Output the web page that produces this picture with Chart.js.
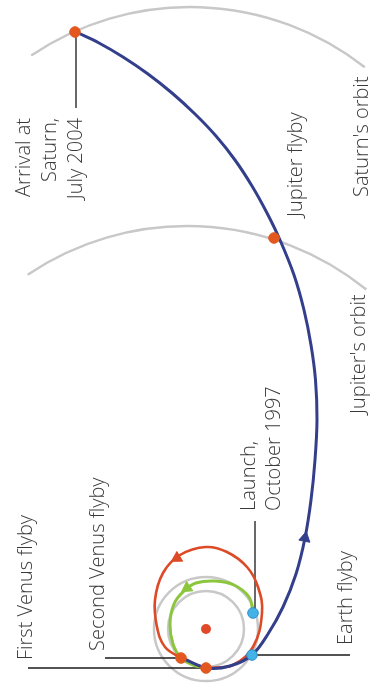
<!DOCTYPE html>
<html>
<head>
<meta charset="utf-8">
<title>Cassini route</title>
<script src="https://cdn.jsdelivr.net/npm/chart.js"></script>
<style>
  html, body { margin: 0; padding: 0; background: #fff; }
  #wrap { width: 371px; height: 686px; }
</style>
</head>
<body>
<div id="wrap"><canvas id="routeChart" width="371" height="686"></canvas></div>
<script>
// diagram units, sun at 0,0, y pointing up

// planet orbits
let orbitNames = ["Venus", "Earth", "Jupiter", "Saturn"]
let orbitCx = [0, 0, -19, -16]
let orbitCy = [0, 0, 118, 338]
let orbitR = [38, 52, 285, 284]
let orbitFrom = [0, 0, 51, 52]
let orbitTo = [360, 360, 124, 124]

// launch leg, Earth -> first Venus flyby
let greenX = [47, 43, 28, 9, -10, -22, -32, -36, -33, -25, -13, 0]
let greenY = [16, 32, 44, 48, 46, 38, 25, 5, -15, -29, -36, -39]

// loop between the two Venus flybys
let redX = [0, 27, 47, 56, 52, 41, 21, 0, -26, -43, -51, -49, -41, -25]
let redY = [-39, -36, -18, 16, 42, 62, 77, 82, 74, 56, 29, 2, -18, -29]

// second Venus -> Earth -> Jupiter -> Saturn
let navyX = [-24, 1, 24, 46, 62, 77, 90, 99, 105, 109, 111, 109.5, 105, 98, 88, 74, 61, 46, 29, 10, -11, -34, -58, -83, -107, -130]
let navyY = [-29, -39, -37, -26, -5, 22, 55, 91, 129, 169, 209, 249, 284, 319, 354, 389, 416, 443, 469, 493, 515, 536, 555, 572, 586, 597]

// events
let eventNames = ["Launch", "First Venus flyby", "Second Venus flyby", "Earth flyby", "Jupiter flyby", "Arrival at Saturn"]
let eventX = [47, 0, -25, 46, 68, -131]
let eventY = [16, -39, -29, -26, 391, 597]
let eventKind = ["earth", "venus", "venus", "earth", "planet", "planet"]

// direction arrows on the paths
let arrowX = [-29, -19, 99]
let arrowY = [71, 41, 91]
let arrowDeg = [239, 236, 11]

// leader lines from events to labels
let leaderX1 = [-130, 49, -178, -101, 46]
let leaderY1 = [598, 108, -39, -29, -26]
let leaderX2 = [-130, 49, 0, -25, 144]
let leaderY2 = [521, 17, -39, -29, -26]

let labelLines = [
    ["First Venus flyby"],
    ["Second Venus flyby"],
    ["Launch,", "October 1997"],
    ["Earth flyby"],
    ["Jupiter's orbit"],
    ["Jupiter flyby"],
    ["Saturn's orbit"],
    ["Arrival at", "Saturn,", "July 2004"]
]

let navy = "#343f8c"
let red = "#dc4a26"
let green = "#8cc63f"
let orange = "#e2581f"
let grey = "#c8c8c8"

function pts(xs, ys) {
    let out = []
    for (let i = 0; i < xs.length; i++) {
        out.push({x: xs[i], y: ys[i]})
    }
    return out
}

// label anchors (baseline x, start or end y) in diagram units
let labelPos = [
    {x: -174, y: -31, align: "left", step: 0},
    {x: -102, y: -22, align: "left", step: 0},
    {x: 49, y: 118, align: "left", step: 25},
    {x: 146, y: -16, align: "left", step: 0},
    {x: 159, y: 215, align: "left", step: 0},
    {x: 96, y: 412, align: "left", step: 0},
    {x: 162, y: 432, align: "left", step: 0},
    {x: -176, y: 511, align: "right", step: 26}
]

let orbitPlugin = {
    id: "orbits",
    beforeDatasetsDraw: function (chart) {
        let ctx = chart.ctx
        let sx = chart.scales.x
        let sy = chart.scales.y
        ctx.save()
        ctx.strokeStyle = grey
        ctx.lineWidth = 2.5
        for (let i = 0; i < orbitNames.length; i++) {
            let cx = sx.getPixelForValue(orbitCx[i])
            let cy = sy.getPixelForValue(orbitCy[i])
            let r = sx.getPixelForValue(orbitR[i]) - sx.getPixelForValue(0)
            ctx.beginPath()
            ctx.arc(cx, cy, r, -orbitTo[i] * Math.PI / 180, -orbitFrom[i] * Math.PI / 180)
            ctx.stroke()
        }
        ctx.restore()
    }
}

let labelPlugin = {
    id: "labels",
    afterDatasetsDraw: function (chart) {
        let ctx = chart.ctx
        let sx = chart.scales.x
        let sy = chart.scales.y
        ctx.save()
        ctx.font = '300 20px "Open Sans"'
        ctx.fillStyle = "#3a3a3a"
        ctx.textBaseline = "alphabetic"
        for (let i = 0; i < labelLines.length; i++) {
            let p = labelPos[i]
            ctx.textAlign = p.align
            for (let j = 0; j < labelLines[i].length; j++) {
                ctx.save()
                ctx.translate(sx.getPixelForValue(p.x) + j * p.step, sy.getPixelForValue(p.y))
                ctx.rotate(-Math.PI / 2)
                ctx.fillText(labelLines[i][j], 0, 0)
                ctx.restore()
            }
        }
        ctx.restore()
    }
}

let dotFill = []
let dotBorder = []
for (let i = 0; i < eventKind.length; i++) {
    if (eventKind[i] === "earth") {
        dotFill.push("#43b2e6")
        dotBorder.push("#2b8fcf")
    } else {
        dotFill.push(orange)
        dotBorder.push(orange)
    }
}

let datasets = [
    {
        data: [{x: 0, y: 0}],
        pointRadius: 5,
        pointBackgroundColor: "#e04a2a",
        pointBorderWidth: 0
    },
    {
        data: pts(eventX, eventY),
        pointRadius: 5.3,
        pointBackgroundColor: dotFill,
        pointBorderColor: dotBorder,
        pointBorderWidth: 1
    },
    {
        data: pts(arrowX, arrowY),
        pointStyle: "triangle",
        pointRadius: 6.5,
        rotation: arrowDeg,
        pointBackgroundColor: [red, green, navy],
        pointBorderColor: [red, green, navy],
        pointBorderWidth: 1
    },
    {
        data: pts(navyX, navyY),
        showLine: true,
        borderColor: navy,
        borderWidth: 3,
        pointRadius: 0,
        tension: 0.35
    },
    {
        data: pts(redX, redY),
        showLine: true,
        borderColor: red,
        borderWidth: 2.6,
        pointRadius: 0,
        tension: 0.4
    },
    {
        data: pts(greenX, greenY),
        showLine: true,
        borderColor: green,
        borderWidth: 3,
        pointRadius: 0,
        tension: 0.4
    }
]

for (let i = 0; i < leaderX1.length; i++) {
    datasets.push({
        data: [{x: leaderX1[i], y: leaderY1[i]}, {x: leaderX2[i], y: leaderY2[i]}],
        showLine: true,
        borderColor: "#1a1a1a",
        borderWidth: 1.3,
        pointRadius: 0,
        tension: 0
    })
}

let routeChart = new Chart(document.getElementById("routeChart").getContext("2d"), {
    type: "scatter",
    data: {datasets: datasets},
    options: {
        responsive: false,
        animation: false,
        layout: {padding: 0, autoPadding: false},
        plugins: {
            legend: {display: false},
            tooltip: {enabled: false}
        },
        scales: {
            x: {type: "linear", min: -206, max: 165, display: false},
            y: {type: "linear", min: -57, max: 629, display: false}
        }
    },
    plugins: [orbitPlugin, labelPlugin]
})
</script>
</body>
</html>
